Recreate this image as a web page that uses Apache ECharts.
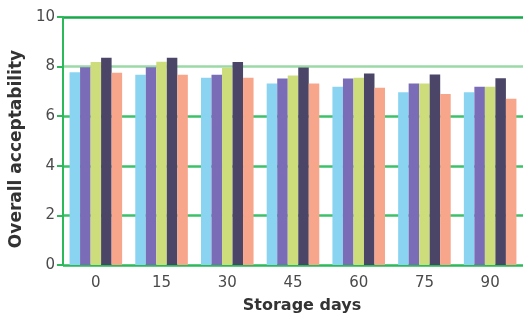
<!DOCTYPE html>
<html>
<head>
<meta charset="utf-8">
<script src="https://cdn.jsdelivr.net/npm/echarts@6/dist/echarts.min.js"></script>
<style>
  html, body { margin: 0; padding: 0; background: #fff; }
  #chart { width: 523px; height: 319px; }
</style>
</head>
<body>
<div id="chart"></div>
<script>
// storage days on the x axis
var days = ['0', '15', '30', '45', '60', '75', '90']
// five samples, one bar each per day
var sample1 = [7.77, 7.67, 7.55, 7.32, 7.19, 6.97, 6.97]
var sample2 = [7.97, 7.97, 7.67, 7.52, 7.52, 7.32, 7.19]
var sample3 = [8.19, 8.2, 7.95, 7.64, 7.55, 7.32, 7.19]
var sample4 = [8.36, 8.36, 8.19, 7.96, 7.72, 7.68, 7.53]
var sample5 = [7.75, 7.67, 7.55, 7.32, 7.15, 6.9, 6.7]

var colors = ['#8ad4f2', '#7a6cb6', '#cedd7c', '#4b4567', '#f8a68b']
var seriesData = [sample1, sample2, sample3, sample4, sample5]

var myChart = echarts.init(document.getElementById('chart'))

var series = seriesData.map(function (d, i) {
  return {
    type: 'bar',
    data: d,
    barGap: '0%',
    barCategoryGap: '20%',
    itemStyle: { color: colors[i] },
    z: 3
  }
})

var option = {
  animation: false,
  grid: { left: 62, right: -2, top: 17, bottom: 52, containLabel: false },
  xAxis: {
    type: 'category',
    data: days,
    name: 'Storage days',
    nameLocation: 'middle',
    nameGap: 33,
    nameTextStyle: { color: '#333', fontSize: 16, fontWeight: 'bold', fontFamily: 'DejaVu Sans', padding: [0, 0, 0, 18] },
    axisLine: { show: false },
    axisTick: { show: false },
    axisLabel: { color: '#4a4a4a', fontSize: 15, fontFamily: 'DejaVu Sans', margin: 11 }
  },
  yAxis: {
    type: 'value',
    min: 0,
    max: 10,
    interval: 2,
    name: 'Overall acceptability',
    nameLocation: 'middle',
    nameGap: 32,
    nameTextStyle: { color: '#333', fontSize: 17, fontWeight: 'bold', fontFamily: 'DejaVu Sans', padding: [0, 16, 0, 0] },
    axisLine: { show: true, lineStyle: { color: '#2bb95a', width: 2 } },
    axisTick: { show: true, length: 6, lineStyle: { color: '#2bb95a', width: 2 } },
    axisLabel: { color: '#4a4a4a', fontSize: 15, fontFamily: 'DejaVu Sans', margin: 8 },
    splitLine: {
      show: true,
      lineStyle: {
        color: ['#2bb95a', '#3cc06a', '#3cc06a', '#3cc06a', '#9bd9a6', '#17a84a'],
        width: 2.5
      }
    }
  },
  series: series
}

myChart.setOption(option)
</script>
</body>
</html>
